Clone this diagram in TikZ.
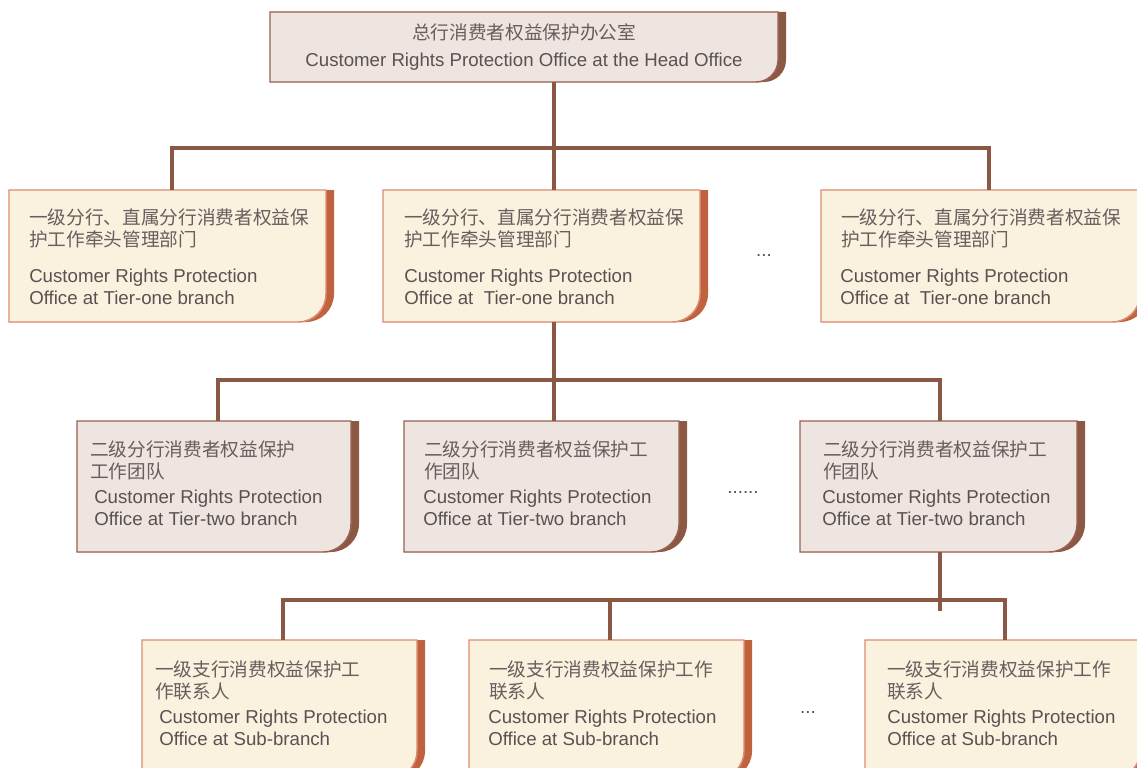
\documentclass[tikz,border=0pt]{standalone}
\usepackage{fontspec}
\setmainfont{Liberation Sans}
\newfontfamily\cjk{Noto Sans CJK SC}
\usetikzlibrary{fit}
\definecolor{creamfill}{HTML}{FBF1DF}
\definecolor{creamline}{HTML}{DC8C70}
\definecolor{creamshadow}{HTML}{C0623E}
\definecolor{pinkfill}{HTML}{EEE4E0}
\definecolor{pinkline}{HTML}{9A6250}
\definecolor{pinkshadow}{HTML}{8A5843}
\definecolor{conncol}{HTML}{8A5843}
\definecolor{txtcol}{HTML}{5A5252}
\definecolor{cjkcol}{HTML}{675E5E}
\tikzset{
  cn/.style={inner sep=0pt, text=cjkcol, font=\cjk\fontsize{14}{17}\selectfont},
  en/.style={inner sep=0pt, text=txtcol, font=\fontsize{14}{16.5}\selectfont},
  conn/.style={draw=conncol, line width=2.3pt},
}
% #1 name, #2 x1, #3 y1, #4 x2, #5 y2, #6 fill, #7 line, #8 shadow, #9 radius
\newcommand\obox[9]{%
  \fill[#8] (#2,#3) -- (#4,#3) -- (#4,#5-#9) .. controls (#4,#5-0.448*#9) and (#4-0.448*#9,#5) .. (#4-#9,#5) -- (#2,#5) -- cycle;
  \filldraw[fill=#6, draw=#7, line width=1.1pt] (#2,#3) -- (#4-8,#3) -- (#4-8,#5-#9) .. controls (#4-8,#5-0.448*#9) and (#4-8-0.448*#9,#5) .. (#4-8-#9,#5) -- (#2,#5) -- cycle;
  \coordinate (#1nw) at (#2,#3);
  \coordinate (#1se) at (#4,#5);
  \node[fit=(#1nw)(#1se), inner sep=0pt] (#1) {};
}
% #1 name, #2 x cjk, #3 baseline cjk, #4 line1, #5 line2, #6 x en, #7 baseline en, #8 line1, #9 line2
\newcommand\boxtext[9]{%
  \node[cn, anchor=base west] (#1c1) at (#2,#3) {#4};
  \node[cn, anchor=base west] (#1c2) at (#2,#3+22) {#5};
  \node[en, anchor=base west] (#1e1) at (#6,#7) {#8};
  \node[en, anchor=base west] (#1e2) at (#6,#7+22) {#9};
}
\begin{document}
\begin{tikzpicture}[x=0.75pt, y=-0.75pt]
\useasboundingbox (0,0) rectangle (1137,767);
\clip (0,0) rectangle (1137,767);

% boxes
\obox{t}{270}{12}{786}{82}{pinkfill}{pinkline}{pinkshadow}{22}
\obox{a1}{9}{190}{334}{322}{creamfill}{creamline}{creamshadow}{28}
\obox{a2}{383}{190}{708}{322}{creamfill}{creamline}{creamshadow}{28}
\obox{a3}{821}{190}{1148}{322}{creamfill}{creamline}{creamshadow}{28}
\obox{b1}{77}{421}{359}{552}{pinkfill}{pinkline}{pinkshadow}{28}
\obox{b2}{404}{421}{687}{552}{pinkfill}{pinkline}{pinkshadow}{28}
\obox{b3}{800}{421}{1085}{552}{pinkfill}{pinkline}{pinkshadow}{28}
\obox{c1}{142}{640}{425}{779}{creamfill}{creamline}{creamshadow}{28}
\obox{c2}{469}{640}{752}{779}{creamfill}{creamline}{creamshadow}{28}
\obox{c3}{865}{640}{1148}{779}{creamfill}{creamline}{creamshadow}{28}

% junction coordinates
\coordinate (k1) at (554,148);
\coordinate (k1l) at (172,148);
\coordinate (k1r) at (989,148);
\coordinate (k2) at (554,380);
\coordinate (k2l) at (218,380);
\coordinate (k2r) at (940,380);
\coordinate (k3) at (940,611);
\coordinate (k3l) at (283,600);
\coordinate (k3m) at (610,600);
\coordinate (k3r) at (1005,600);

% connectors
\draw[conn] (t.south -| k1) -- (a2.north -| k1);
\draw[conn] (a1.north -| k1l) -- (k1l) -- (k1r) -- (a3.north -| k1r);
\draw[conn] (a2.south -| k2) -- (b2.north -| k2);
\draw[conn] (b1.north -| k2l) -- (k2l) -- (k2r) -- (b3.north -| k2r);
\draw[conn] (b3.south -| k3) -- (k3);
\draw[conn] (c1.north -| k3l) -- (k3l) -- (k3r) -- (c3.north -| k3r);
\draw[conn] (k3m) -- (c2.north -| k3m);

% texts
\node[cn, anchor=base] (tc) at (524,40) {总行消费者权益保护办公室};
\node[en, anchor=base] (te) at (524,67) {Customer Rights Protection Office at the Head Office};

\boxtext{a1}{29}{224}{一级分行、直属分行消费者权益保}{护工作牵头管理部门}{29}{282}{Customer Rights Protection}{Office at Tier-one branch}
\boxtext{a2}{404}{224}{一级分行、直属分行消费者权益保}{护工作牵头管理部门}{404}{282}{Customer Rights Protection}{Office at\ \ Tier-one branch}
\boxtext{a3}{841}{224}{一级分行、直属分行消费者权益保}{护工作牵头管理部门}{840}{282}{Customer Rights Protection}{Office at\ \ Tier-one branch}

\boxtext{b1}{90}{456}{二级分行消费者权益保护}{工作团队}{94}{503}{Customer Rights Protection}{Office at Tier-two branch}
\boxtext{b2}{424}{456}{二级分行消费者权益保护工}{作团队}{423}{503}{Customer Rights Protection}{Office at Tier-two branch}
\boxtext{b3}{823}{456}{二级分行消费者权益保护工}{作团队}{822}{503}{Customer Rights Protection}{Office at Tier-two branch}

\boxtext{c1}{155}{676}{一级支行消费权益保护工}{作联系人}{159}{723}{Customer Rights Protection}{Office at Sub-branch}
\boxtext{c2}{489}{676}{一级支行消费权益保护工作}{联系人}{488}{723}{Customer Rights Protection}{Office at Sub-branch}
\boxtext{c3}{887}{676}{一级支行消费权益保护工作}{联系人}{887}{723}{Customer Rights Protection}{Office at Sub-branch}

% ellipses
\node[en, anchor=base] (d1) at (764,256) {...};
\node[en, anchor=base] (d2) at (743,493) {......};
\node[en, anchor=base] (d3) at (808,713) {...};
\end{tikzpicture}
\end{document}
